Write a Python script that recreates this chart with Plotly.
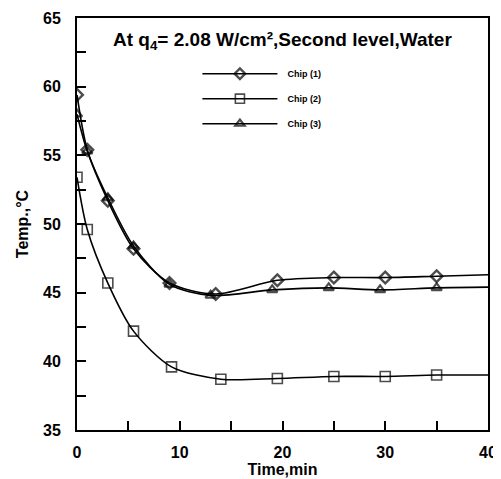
import plotly.graph_objects as go

# Data
time_1 = [0, 1, 3, 5.5, 9, 13.5, 19.5, 25, 30, 35, 40]
chip_1 = [59.4, 55.4, 51.7, 48.2, 45.7, 44.9, 45.9, 46.1, 46.1, 46.2, 46.3]

time_2 = [0, 1, 3, 5.5, 9.2, 14, 19.5, 25, 30, 35, 40]
chip_2 = [53.4, 49.6, 45.7, 42.2, 39.6, 38.7, 38.75, 38.9, 38.9, 39.0, 39.0]

time_3 = [0, 1, 3, 5.5, 9, 13, 19, 24.5, 29.5, 35, 40]
chip_3 = [58.0, 55.3, 51.9, 48.4, 45.6, 44.8, 45.2, 45.35, 45.2, 45.35, 45.4]

names = ["Chip (1)", "Chip (2)", "Chip (3)"]
x_ticks = [0, 10, 20, 30, 40]
y_ticks = [35, 40, 45, 50, 55, 60, 65]

FONT = "Liberation Sans, Arial, sans-serif"

fig = go.Figure()
series = [
    (time_1, chip_1, "diamond-open", 9, 2.4),
    (time_2, chip_2, "square-open", 10, 1.6),
    (time_3, chip_3, "triangle-up-open", 9, 2.2),
]
for i, ((tx, ty, sym, sz, lw), nm) in enumerate(zip(series, names)):
    sizes = [sz] * (len(tx) - 1) + [0]
    fig.add_trace(go.Scatter(
        x=tx, y=ty, name="\u00a0\u00a0" + nm, mode="lines+markers",
        legendgroup=f"g{i}",
        line=dict(color="black", width=1.6, shape="spline", smoothing=0.8),
        marker=dict(symbol=sym, size=sizes, color="black",
                    line=dict(color="black", width=lw)),
    ))

axis_common = dict(
    showline=True, linecolor="black", linewidth=2, mirror=True,
    ticks="inside", tickcolor="black", tickwidth=1.5, ticklen=9,
    showgrid=False, zeroline=False, automargin=False,
    ticklabeloverflow="allow",
    tickfont=dict(family=FONT, size=16, color="black", weight="bold"),
)

fig.update_xaxes(
    range=[0, 40], tickvals=x_ticks, ticktext=[str(v) for v in x_ticks],
    minor=dict(dtick=5, ticks="inside", ticklen=9, tickcolor="black", tickwidth=1.5),
    ticklabelstandoff=7,
    title=dict(text="Time,min", standoff=4,
               font=dict(family=FONT, size=16, color="black", weight="bold")),
    **axis_common,
)
fig.update_yaxes(
    range=[35, 65], tickvals=y_ticks, ticktext=[str(v) for v in y_ticks],
    minor=dict(dtick=2.5, ticks="inside", ticklen=9, tickcolor="black", tickwidth=1.5),
    ticklabelstandoff=11,
    title=dict(text="Temp.,°C", standoff=10,
               font=dict(family=FONT, size=16, color="black", weight="bold")),
    **axis_common,
)

fig.add_annotation(
    text="At q<sub>4</sub>= 2.08 W/cm²,Second level,Water",
    xref="paper", yref="paper", x=0.5, y=0.945, xanchor="center", yanchor="middle",
    showarrow=False,
    font=dict(family=FONT, size=19, color="black", weight="bold"),
)

fig.update_layout(
    width=490, height=471,
    margin=dict(l=69, r=10, t=10, b=49),
    paper_bgcolor="white", plot_bgcolor="white",
    showlegend=True,
    legend=dict(x=0.293, y=0.90, xanchor="left", yanchor="top",
                bgcolor="rgba(0,0,0,0)", itemwidth=75,
                font=dict(family=FONT, size=9, color="black", weight="bold"),
                tracegroupgap=6),
)

fig.write_html("out.html")
